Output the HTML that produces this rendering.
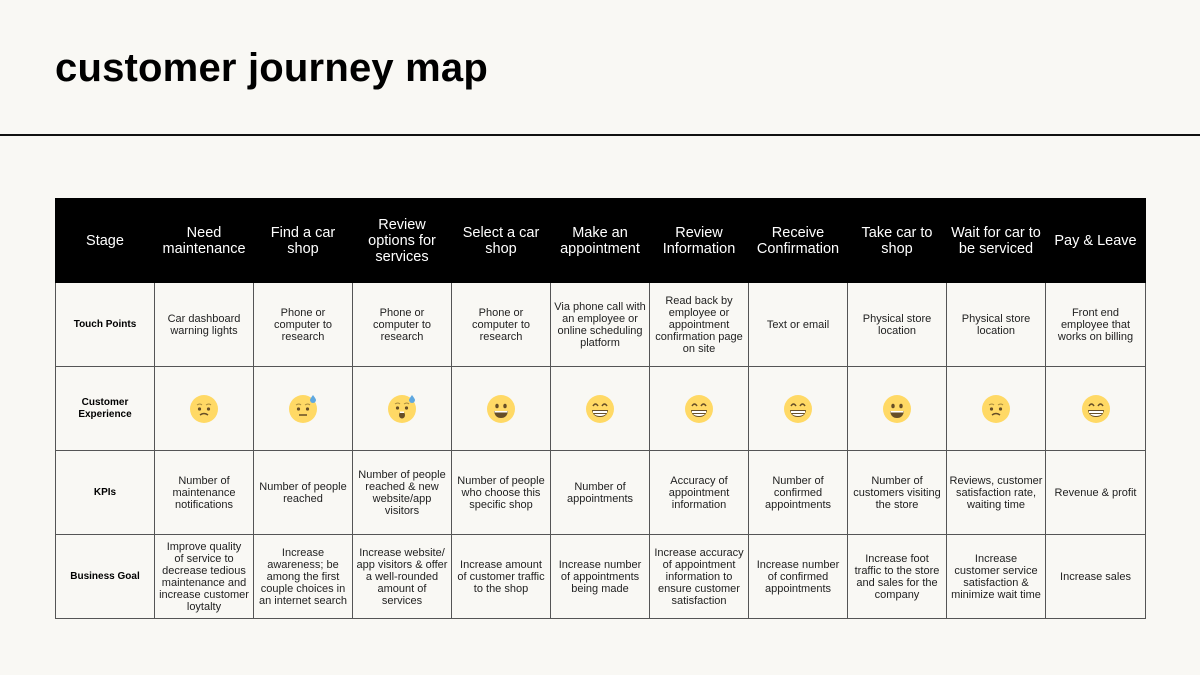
<!DOCTYPE html><html><head><meta charset="utf-8"><style>
body{margin:0;width:1200px;height:675px;background:#f9f8f4;font-family:"Liberation Sans",sans-serif;position:relative;overflow:hidden}
h1{position:absolute;left:55px;top:44px;margin:0;font-size:40px;font-weight:bold;letter-spacing:0.2px;color:#000;line-height:48px}
.hr{position:absolute;left:0;top:134px;width:1200px;height:2px;background:#111}
table{position:absolute;left:55px;top:198px;border-collapse:collapse;table-layout:fixed;width:1090px}
td{border:1px solid #555;text-align:center;vertical-align:middle;font-size:11px;line-height:12px;color:#222;padding:0;height:83px;overflow:hidden;white-space:nowrap}
tr.h td{background:#000;color:#fff;font-size:14.5px;line-height:16px;border-color:#000;height:83px}
td.l{font-weight:bold;font-size:10px;color:#000}
tr.h td.l{font-weight:normal;font-size:14.5px;color:#fff}
svg{display:block;margin:0 auto}
</style></head><body>
<svg width="0" height="0" style="position:absolute"><defs>
<g id="worried"><circle cx="15" cy="15" r="14" fill="#FFD965"/><circle cx="10.5" cy="15" r="1.6" fill="#664e27"/><circle cx="19.5" cy="15" r="1.6" fill="#664e27"/><path d="M8 11q3-2 5 0M17 11q3-2 5 0" stroke="#a88a3d" fill="none" stroke-width="1"/><path d="M11 21q4-3 8 0" stroke="#664e27" fill="none" stroke-width="1.5"/></g>
<g id="sweat"><circle cx="15" cy="15" r="14" fill="#FFD965"/><circle cx="10.5" cy="15" r="1.6" fill="#664e27"/><circle cx="19.5" cy="15" r="1.6" fill="#664e27"/><path d="M8 11q3-2 5 0M17 11q3-2 5 0" stroke="#a88a3d" fill="none" stroke-width="1"/><path d="M11 21h8" stroke="#664e27" stroke-width="1.5"/><path d="M25 1q-3 4-3 5a3 3 0 0 0 6 0q0-1-3-5z" fill="#5fa8e0"/></g>
<g id="sweato"><circle cx="15" cy="15" r="14" fill="#FFD965"/><circle cx="10.5" cy="14" r="1.6" fill="#664e27"/><circle cx="19.5" cy="14" r="1.6" fill="#664e27"/><path d="M8 10q3-2 5 0M17 10q3-2 5 0" stroke="#a88a3d" fill="none" stroke-width="1"/><ellipse cx="15" cy="21" rx="3" ry="3.5" fill="#664e27"/><rect x="13" y="17.5" width="4" height="1.5" fill="#fff"/><path d="M25 1q-3 4-3 5a3 3 0 0 0 6 0q0-1-3-5z" fill="#5fa8e0"/></g>
<g id="smile"><circle cx="15" cy="15" r="14" fill="#FFD965"/><ellipse cx="11" cy="12" rx="1.7" ry="2.3" fill="#664e27"/><ellipse cx="19" cy="12" rx="1.7" ry="2.3" fill="#664e27"/><path d="M8 17h14q-1 7-7 7t-7-7z" fill="#664e27"/><path d="M8.5 17h13v1.5h-13z" fill="#fff"/></g>
<g id="grin"><circle cx="15" cy="15" r="14" fill="#FFD965"/><path d="M8 12q2.5-4 5 0M17 12q2.5-4 5 0" stroke="#664e27" fill="none" stroke-width="1.5"/><path d="M7 16h16q-1 7-8 7t-8-7z" fill="#664e27"/><path d="M8 17h14v2h-14zM9 20h12q-2 2-6 2t-6-2z" fill="#fff"/></g>
</defs></svg>
<h1>customer journey map</h1>
<div class="hr"></div>
<table>
<colgroup><col style="width:99px"><col style="width:99px"><col style="width:99px"><col style="width:99px"><col style="width:99px"><col style="width:99px"><col style="width:99px"><col style="width:99px"><col style="width:99px"><col style="width:99px"><col style="width:100px"></colgroup>
<tr class="h"><td class="l">Stage</td><td>Need<br>maintenance</td><td>Find a car<br>shop</td><td>Review<br>options for<br>services</td><td>Select a car<br>shop</td><td>Make an<br>appointment</td><td>Review<br>Information</td><td>Receive<br>Confirmation</td><td>Take car to<br>shop</td><td>Wait for car to<br>be serviced</td><td>Pay &amp; Leave</td></tr>
<tr><td class="l">Touch Points</td><td>Car dashboard<br>warning lights</td><td>Phone or<br>computer to<br>research</td><td>Phone or<br>computer to<br>research</td><td>Phone or<br>computer to<br>research</td><td>Via phone call with<br>an employee or<br>online scheduling<br>platform</td><td>Read back by<br>employee or<br>appointment<br>confirmation page<br>on site</td><td>Text or email</td><td>Physical store<br>location</td><td>Physical store<br>location</td><td>Front end<br>employee that<br>works on billing</td></tr>
<tr><td class="l">Customer<br>Experience</td>
<td><svg width="30" height="30"><use href="#worried"/></svg></td>
<td><svg width="30" height="30"><use href="#sweat"/></svg></td>
<td><svg width="30" height="30"><use href="#sweato"/></svg></td>
<td><svg width="30" height="30"><use href="#smile"/></svg></td>
<td><svg width="30" height="30"><use href="#grin"/></svg></td>
<td><svg width="30" height="30"><use href="#grin"/></svg></td>
<td><svg width="30" height="30"><use href="#grin"/></svg></td>
<td><svg width="30" height="30"><use href="#smile"/></svg></td>
<td><svg width="30" height="30"><use href="#worried"/></svg></td>
<td><svg width="30" height="30"><use href="#grin"/></svg></td></tr>
<tr><td class="l">KPIs</td><td>Number of<br>maintenance<br>notifications</td><td>Number of people<br>reached</td><td>Number of people<br>reached &amp; new<br>website/app<br>visitors</td><td>Number of people<br>who choose this<br>specific shop</td><td>Number of<br>appointments</td><td>Accuracy of<br>appointment<br>information</td><td>Number of<br>confirmed<br>appointments</td><td>Number of<br>customers visiting<br>the store</td><td>Reviews, customer<br>satisfaction rate,<br>waiting time</td><td>Revenue &amp; profit</td></tr>
<tr><td class="l">Business Goal</td><td>Improve quality<br>of service to<br>decrease tedious<br>maintenance and<br>increase customer<br>loytalty</td><td>Increase<br>awareness; be<br>among the first<br>couple choices in<br>an internet search</td><td>Increase website/<br>app visitors &amp; offer<br>a well-rounded<br>amount of<br>services</td><td>Increase amount<br>of customer traffic<br>to the shop</td><td>Increase number<br>of appointments<br>being made</td><td>Increase accuracy<br>of appointment<br>information to<br>ensure customer<br>satisfaction</td><td>Increase number<br>of confirmed<br>appointments</td><td>Increase foot<br>traffic to the store<br>and sales for the<br>company</td><td>Increase<br>customer service<br>satisfaction &amp;<br>minimize wait time</td><td>Increase sales</td></tr>
</table>
</body></html>
